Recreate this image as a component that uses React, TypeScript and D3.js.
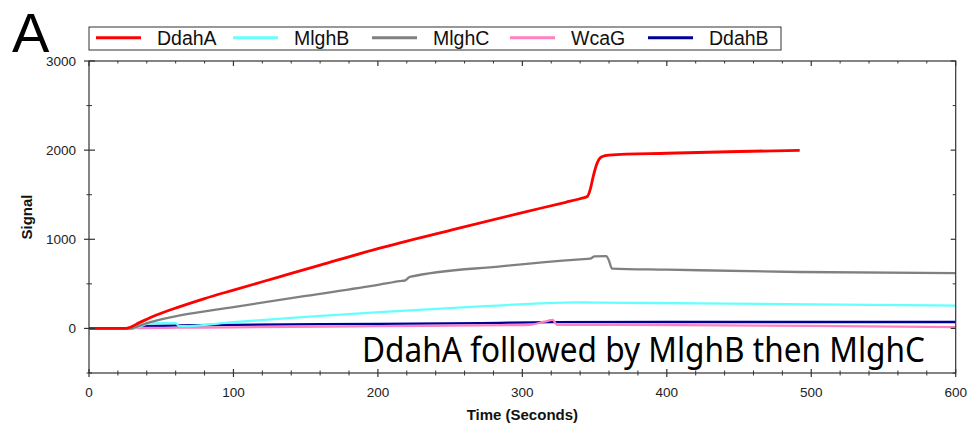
import React from "react";
import * as d3 from "d3";

const seriesNames = ["DdahA", "MlghB", "MlghC", "WcaG", "DdahB"];
const seriesColors = ["#ff0000", "#66ffff", "#808080", "#ff80c0", "#000099"];

// [time (s), signal]
const ddahA: [number, number][] = [
  [0, 0], [25, 0], [27, 5], [35, 65], [45, 140], [63, 245], [80, 335], [100, 430],
  [130, 570], [160, 710], [200, 895], [250, 1100], [300, 1300], [330, 1415], [340, 1455],
  [345, 1480], [347, 1560], [349, 1700], [351, 1820], [353, 1895], [355, 1925],
  [360, 1945], [400, 1965], [450, 1985], [492, 1998],
];
const mlghB: [number, number][] = [
  [0, 0], [28, 0], [35, 20], [40, 50], [45, 58], [60, 60], [62, 30], [65, 25],
  [100, 70], [150, 130], [201, 183], [271, 247], [338, 292], [350, 290], [423, 282],
  [500, 270], [600, 256],
];
const mlghC: [number, number][] = [
  [0, 0], [28, 0], [40, 60], [63, 146], [100, 240], [150, 365], [201, 491], [215, 530],
  [219, 540], [222, 578], [285, 697], [340, 775], [347, 783], [350, 808], [358, 810],
  [360, 760], [362, 672], [400, 660], [492, 633], [600, 620],
];
const wcaG: [number, number][] = [
  [0, 0], [28, 0], [35, 5], [63, 8], [100, 12], [200, 25], [300, 38], [305, 40],
  [315, 75], [321, 95], [324, 40], [409, 38], [500, 28], [600, 15],
];
const ddahB: [number, number][] = [
  [0, 0], [28, 0], [35, 20], [63, 34], [100, 40], [201, 52], [271, 60], [320, 70],
  [400, 72], [600, 72],
];
const seriesData = [ddahA, mlghB, mlghC, wcaG, ddahB];
const drawOrder = [4, 3, 1, 2, 0];

const xMajorTicks = [0, 100, 200, 300, 400, 500, 600];
const yMajorTicks = [0, 1000, 2000, 3000];
const annotation = "DdahA followed by MlghB then MlghC";

export default function App() {
  const W = 971, H = 427;
  const left = 89, right = 955.7, top = 61, bottom = 373;
  const x = d3.scaleLinear().domain([0, 600]).range([left, right]);
  const y = d3.scaleLinear().domain([-500, 3000]).range([bottom, top]);
  const line = d3.line<[number, number]>().x(d => x(d[0])).y(d => y(d[1])).curve(d3.curveMonotoneX);
  const xMinor = d3.range(0, 601, 20).filter(v => v % 100 !== 0);
  const yMinor = d3.range(-500, 3001, 500).filter(v => v % 1000 !== 0);
  const axisColor = "#333";
  const font = "Arial, 'Liberation Sans', sans-serif";

  const legendX = [96, 233, 372, 510, 648];

  return (
    <div style={{ position: "absolute", left: 0, top: 0 }}>
      <svg width={W} height={H} style={{ display: "block", background: "#fff" }}>
        <text x={12} y={52} fontFamily={font} fontSize={56} fill="#000">A</text>

        {/* legend */}
        <rect x={89} y={27} width={692} height={23} fill="#fff" stroke="#333" strokeWidth={1} />
        {seriesNames.map((n, i) => (
          <g key={n}>
            <line x1={legendX[i]} x2={legendX[i] + 45} y1={37.7} y2={37.7} stroke={seriesColors[i]} strokeWidth={3} />
            <text x={legendX[i] + 61} y={45} fontFamily={font} fontSize={19.5} fill="#111">{n}</text>
          </g>
        ))}

        {/* series */}
        <g>
          {drawOrder.map(i => (
            <path key={i} d={line(seriesData[i]) || ""} fill="none" stroke={seriesColors[i]}
              strokeWidth={i === 0 ? 2.8 : 2.3} strokeLinejoin="round" />
          ))}
        </g>

        {/* frame */}
        <rect x={left} y={top} width={right - left} height={bottom - top} fill="none" stroke={axisColor} strokeWidth={1.2} />

        {/* x ticks */}
        {xMajorTicks.map(v => (
          <g key={"xm" + v}>
            <line x1={x(v)} x2={x(v)} y1={bottom - 4} y2={bottom + 4} stroke={axisColor} strokeWidth={1.2} />
            <line x1={x(v)} x2={x(v)} y1={top} y2={top + 5} stroke={axisColor} strokeWidth={1.2} />
            <text x={x(v)} y={397} textAnchor="middle" fontFamily={font} fontSize={13.5} fill="#222">{v}</text>
          </g>
        ))}
        {xMinor.map(v => (
          <g key={"xn" + v}>
            <line x1={x(v)} x2={x(v)} y1={bottom - 2.5} y2={bottom + 2.5} stroke={axisColor} strokeWidth={1} />
            <line x1={x(v)} x2={x(v)} y1={top} y2={top + 2.5} stroke={axisColor} strokeWidth={1} />
          </g>
        ))}

        {/* y ticks */}
        {yMajorTicks.map(v => (
          <g key={"ym" + v}>
            <line x1={left - 5} x2={left + 6} y1={y(v)} y2={y(v)} stroke={axisColor} strokeWidth={1.2} />
            <line x1={right - 5} x2={right} y1={y(v)} y2={y(v)} stroke={axisColor} strokeWidth={1.2} />
            <text x={76} y={y(v) + 4.5} textAnchor="end" fontFamily={font} fontSize={13.5} fill="#222">{v}</text>
          </g>
        ))}
        {yMinor.map(v => (
          <g key={"yn" + v}>
            <line x1={left - 2.5} x2={left + 3} y1={y(v)} y2={y(v)} stroke={axisColor} strokeWidth={1} />
            <line x1={right - 3} x2={right} y1={y(v)} y2={y(v)} stroke={axisColor} strokeWidth={1} />
          </g>
        ))}

        {/* axis labels */}
        <text x={(left + right) / 2} y={420} textAnchor="middle" fontFamily={font} fontWeight="bold" fontSize={15} fill="#111">Time (Seconds)</text>
        <text transform={`translate(32, 217) rotate(-90)`} textAnchor="middle" fontFamily={font} fontWeight="bold" fontSize={15} fill="#111">Signal</text>

        {/* annotation */}
        <text x={362} y={362} fontFamily="'Noto Sans', 'Open Sans', sans-serif" fontSize={34} fill="#000"
          textLength={563} lengthAdjust="spacingAndGlyphs">{annotation}</text>
      </svg>
    </div>
  );
}
